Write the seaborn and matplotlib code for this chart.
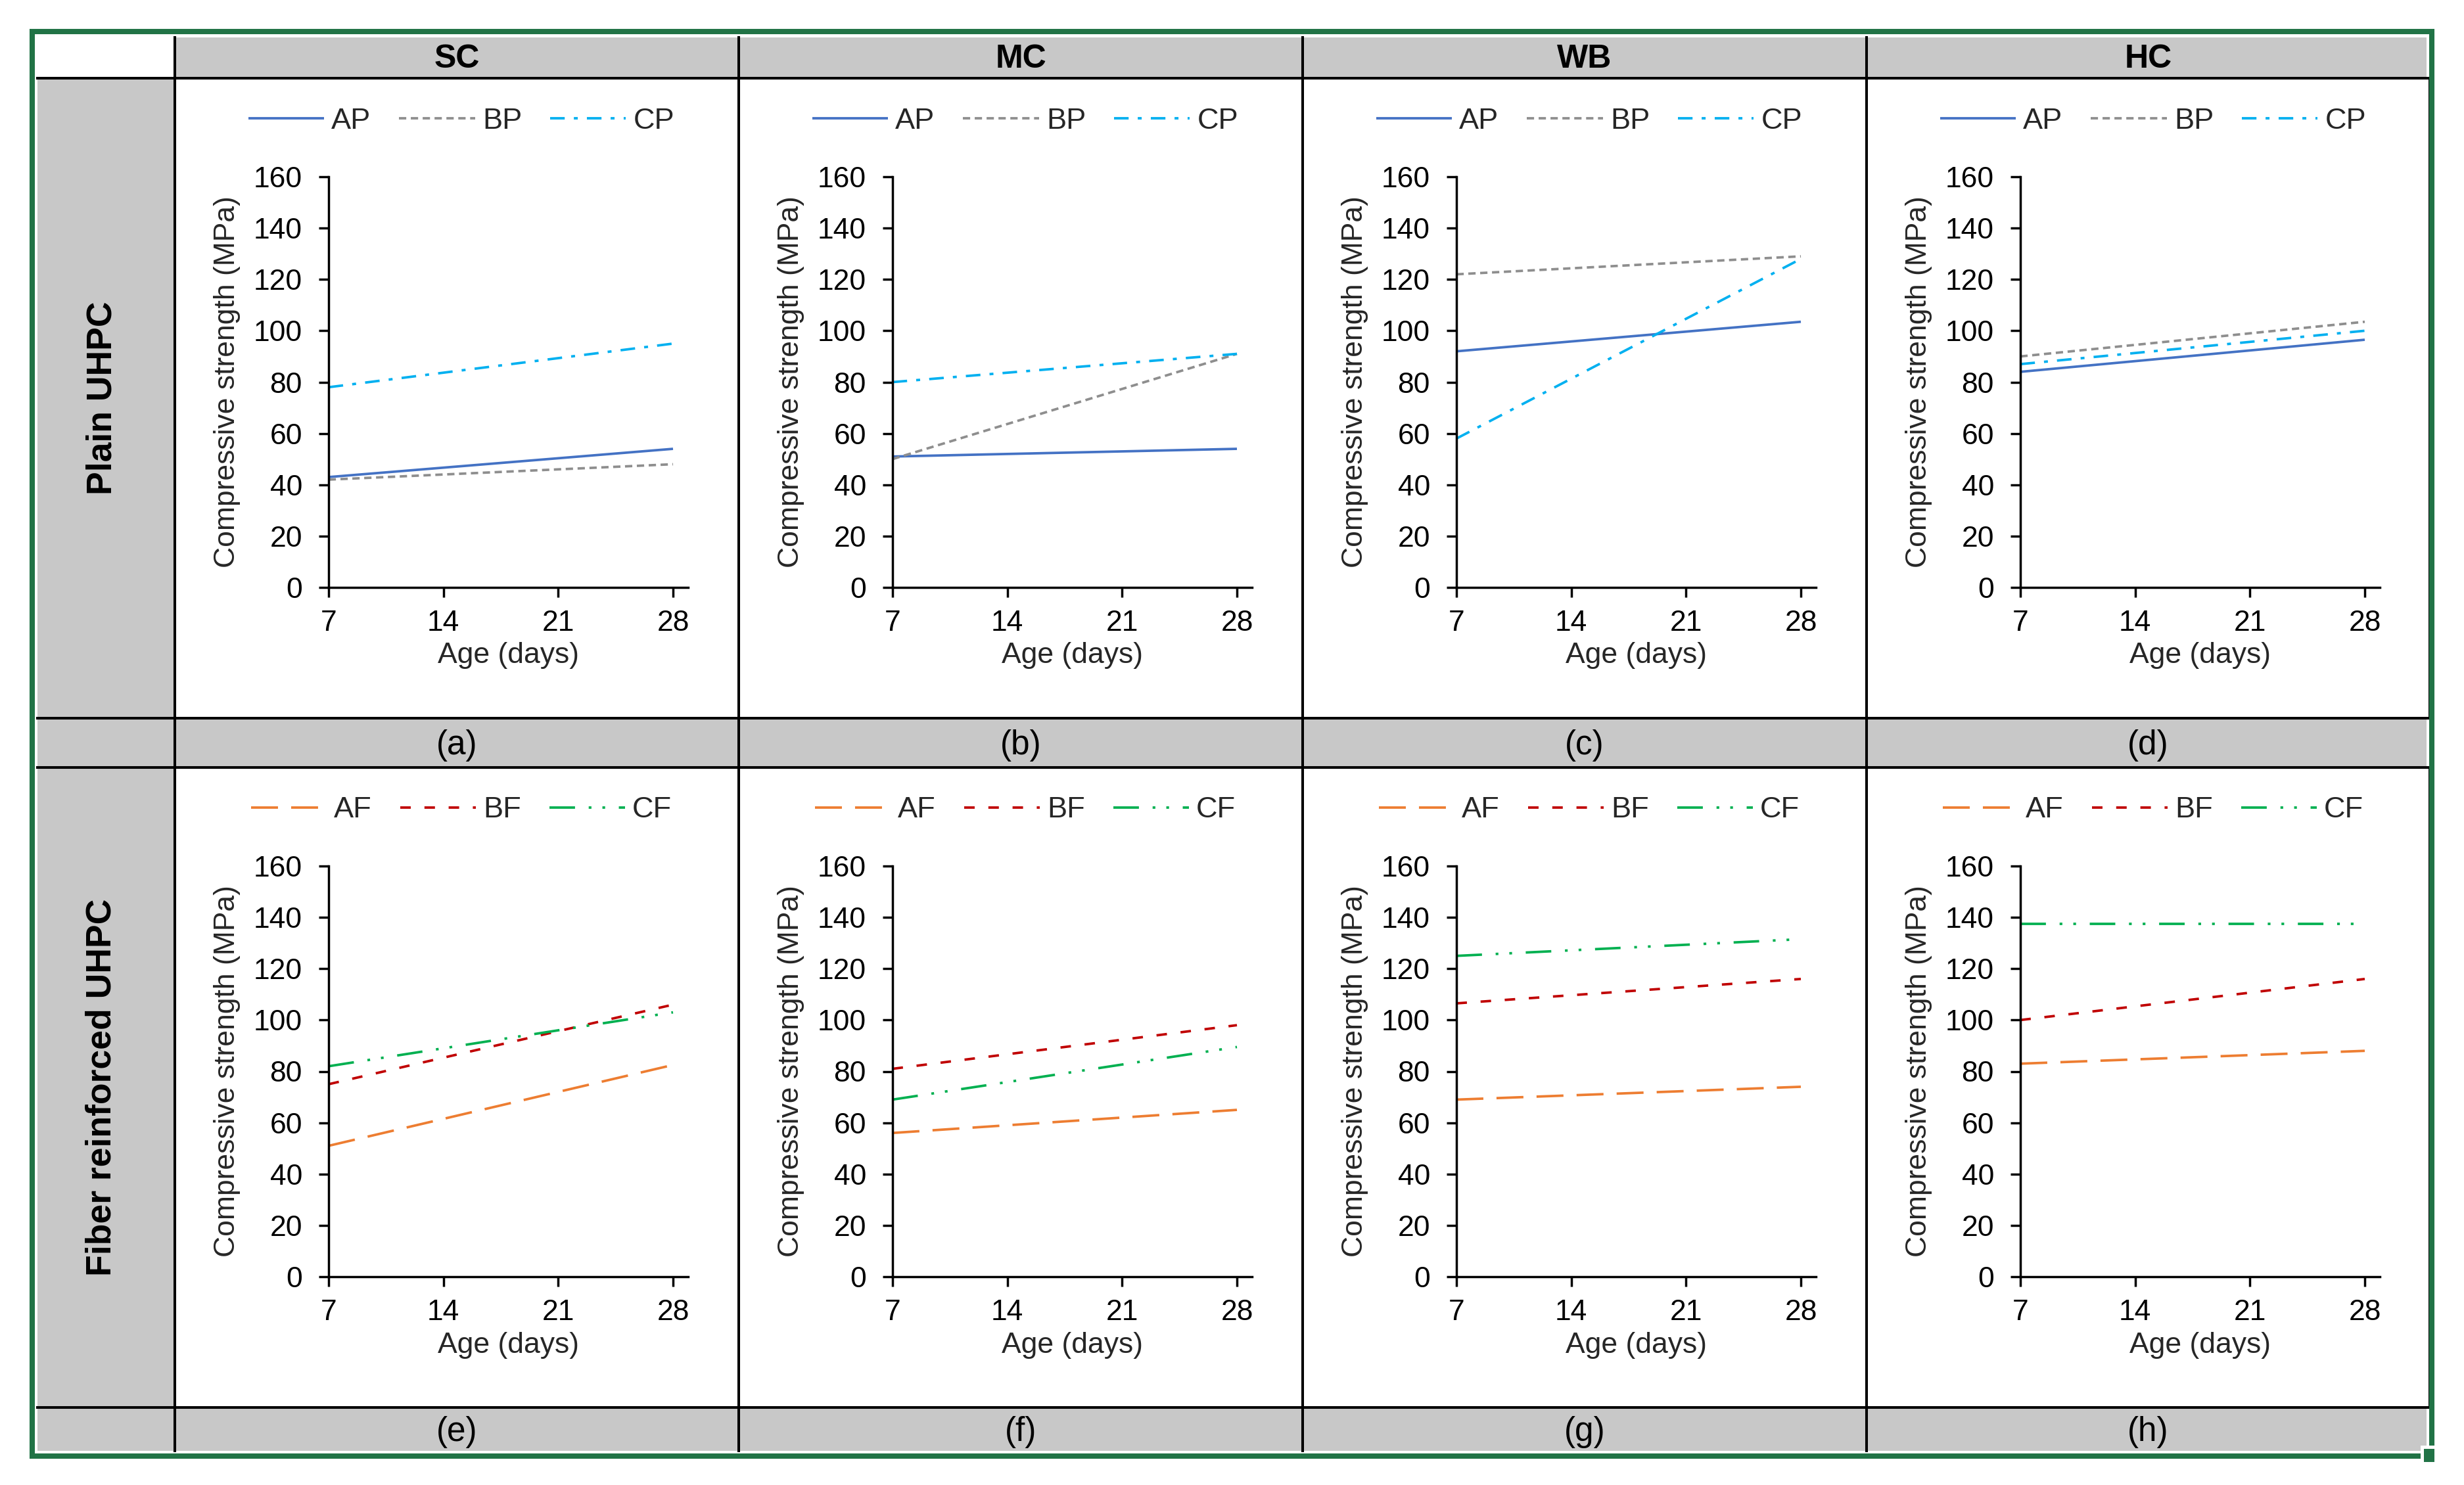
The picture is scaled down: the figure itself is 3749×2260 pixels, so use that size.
import numpy as np
import pandas as pd
import matplotlib
matplotlib.use("Agg")
import matplotlib.pyplot as plt
from matplotlib.patches import Rectangle
from matplotlib.lines import Line2D
import seaborn as sns

# ---------------- data ----------------
columns = ["SC", "MC", "WB", "HC"]
panel_tags_top = ["(a)", "(b)", "(c)", "(d)"]
panel_tags_bottom = ["(e)", "(f)", "(g)", "(h)"]
row_titles = ["Plain UHPC", "Fiber reinforced UHPC"]
ages = [7, 28]
plain_series = ["AP", "BP", "CP"]
fiber_series = ["AF", "BF", "CF"]

AP_7 = [43, 51, 92, 84]
AP_28 = [54, 54, 103.5, 96.5]
BP_7 = [42, 50, 122, 90]
BP_28 = [48, 91, 129, 103.5]
CP_7 = [78, 80, 58, 87]
CP_28 = [95, 91, 128, 100]
AF_7 = [51, 56, 69, 83]
AF_28 = [82.5, 65, 74, 88]
BF_7 = [75, 81, 106.5, 100]
BF_28 = [106, 98, 116, 116]
CF_7 = [82, 69, 125, 137.5]
CF_28 = [103, 89.5, 131.5, 137.5]

x_ticks = [7, 14, 21, 28]
y_ticks = [0, 20, 40, 60, 80, 100, 120, 140, 160]

series_values = {
    "AP": (AP_7, AP_28), "BP": (BP_7, BP_28), "CP": (CP_7, CP_28),
    "AF": (AF_7, AF_28), "BF": (BF_7, BF_28), "CF": (CF_7, CF_28),
}
rows = []
for name, (v7, v28) in series_values.items():
    for ci, col in enumerate(columns):
        for age, v in zip(ages, (v7[ci], v28[ci])):
            rows.append({"binder": col, "mix": name, "age": age, "strength": v})
df = pd.DataFrame(rows)

palette = {"AP": "#4472C4", "BP": "#8E8E8E", "CP": "#00B0F0",
           "AF": "#ED7D31", "BF": "#C00000", "CF": "#00B050"}
dashes = {"AP": "", "BP": (8.0, 5.0), "CP": (16.0, 10.0, 4.3, 10.0),
          "AF": (29.5, 14.4), "BF": (11.5, 15.0),
          "CF": (28.0, 15.0, 3.0, 12.0, 3.0, 15.0)}

# ---------------- style ----------------
sns.set_style("ticks")
plt.rcParams["font.family"] = ["Liberation Sans", "DejaVu Sans"]
plt.rcParams["lines.scale_dashes"] = False
plt.rcParams["lines.solid_capstyle"] = "butt"
plt.rcParams["lines.dash_capstyle"] = "butt"

W, H = 3749, 2260
fig = plt.figure(figsize=(W / 100, H / 100), dpi=100)
fig.patch.set_facecolor("white")


def fx(x):
    return x / W


def fy(y):
    return 1 - y / H


def rect(x0, y0, x1, y1, color, z=-5):
    fig.add_artist(Rectangle((fx(x0), fy(y1)), fx(x1) - fx(x0), fy(y0) - fy(y1),
                             transform=fig.transFigure, facecolor=color,
                             edgecolor="none", zorder=z))


def hline(y, x0, x1, lw=2.9, color="black"):
    fig.add_artist(Line2D([fx(x0), fx(x1)], [fy(y), fy(y)], transform=fig.transFigure,
                          color=color, lw=lw, zorder=3, solid_capstyle="projecting"))


def vline(x, y0, y1, lw=2.9, color="black"):
    fig.add_artist(Line2D([fx(x), fx(x)], [fy(y0), fy(y1)], transform=fig.transFigure,
                          color=color, lw=lw, zorder=3, solid_capstyle="projecting"))


GRAY = "#C8C8C8"
col_edges = [266, 1124, 1982, 2840, 3697]
row_tops = [119, 1168]
row_bottoms = [1093, 2142]
label_rows = [(1093, 1168), (2142, 2208)]

# background cells
rect(57, 57, 3692, 2208, GRAY)
rect(53, 52, 266, 119, "white", z=-4)
for t, b in zip(row_tops, row_bottoms):
    rect(268, t, 3697, b, "white", z=-4)

# grid lines
for y in [119, 1093, 1168, 2142]:
    hline(y, 57, 3697)
for x in col_edges[:-1]:
    vline(x, 57, 2208)
for t, b in zip(row_tops, row_bottoms):
    vline(3697, t, b)

# green selection border + fill handle
fig.add_artist(Rectangle((fx(49), fy(2216)), fx(3700) - fx(49), fy(48) - fy(2216),
                         transform=fig.transFigure, facecolor="none",
                         edgecolor="#217346", lw=5.8, zorder=4))
rect(3683, 2200, 3710, 2230, "white", z=5)
rect(3688, 2205, 3704, 2225, "#217346", z=6)

# header texts
for ci, col in enumerate(columns):
    cx = (col_edges[ci] + col_edges[ci + 1]) / 2
    fig.text(fx(cx), fy(90), col, ha="center", va="center", fontsize=36,
             fontweight="bold", color="black")
    for (lt, lb), tags in zip(label_rows, [panel_tags_top, panel_tags_bottom]):
        fig.text(fx(cx), fy((lt + lb) / 2 + 4), tags[ci], ha="center", va="center",
                 fontsize=37, color="black")

for ri, title in enumerate(row_titles):
    cy = (row_tops[ri] + row_bottoms[ri]) / 2
    fig.text(fx(155), fy(cy), title, ha="center", va="center", rotation=90,
             fontsize=38.5, fontweight="bold", color="black")

# panels
AX_L, AX_R, AX_T, AX_B = 234, 781, 150, 775
x_right = 7 + 21 * (AX_R - AX_L) / (758 - AX_L)
for ri, series in enumerate([plain_series, fiber_series]):
    for ci, col in enumerate(columns):
        cl = col_edges[ci]
        ct = row_tops[ri]
        ax = fig.add_axes([fx(cl + AX_L), fy(ct + AX_B),
                           (AX_R - AX_L) / W, (AX_B - AX_T) / H])
        ax.set_facecolor("none")
        sub = df[(df["binder"] == col) & (df["mix"].isin(series))]
        sns.lineplot(data=sub, x="age", y="strength", hue="mix", style="mix",
                     hue_order=series, style_order=series,
                     palette={k: palette[k] for k in series},
                     dashes={k: dashes[k] for k in series},
                     linewidth=2.7, errorbar=None, legend=False, ax=ax)
        ax.set_xlim(7, x_right)
        ax.set_ylim(0, 160)
        ax.set_xticks(x_ticks)
        ax.set_yticks(y_ticks)
        sns.despine(ax=ax)
        for s in ["left", "bottom"]:
            ax.spines[s].set_linewidth(2.5)
            ax.spines[s].set_color("black")
        ax.tick_params(axis="both", direction="out", length=10.8, width=2.5,
                       color="black", labelsize=32, labelcolor="black")
        ax.tick_params(axis="y", pad=18)
        ax.tick_params(axis="x", pad=13.7)
        ax.set_ylabel("Compressive strength (MPa)", fontsize=32, va="center")
        ax.yaxis.set_label_coords(-155 / (AX_R - AX_L), 0.5)
        ax.set_xlabel("Age (days)", fontsize=32, va="center")
        ax.xaxis.set_label_coords(0.5, -104 / (AX_B - AX_T))
        handles = list(ax.get_lines())[:3]
        ax.legend(handles, series, loc="center", ncol=3, frameon=False,
                  fontsize=32.5, handlelength=2.55, handletextpad=0.25,
                  columnspacing=0.95, borderpad=0, borderaxespad=0,
                  bbox_to_anchor=(fx(cl + 436), fy(ct + 65)),
                  bbox_transform=fig.transFigure)

fig.savefig("out.png", dpi=100, facecolor="white")
